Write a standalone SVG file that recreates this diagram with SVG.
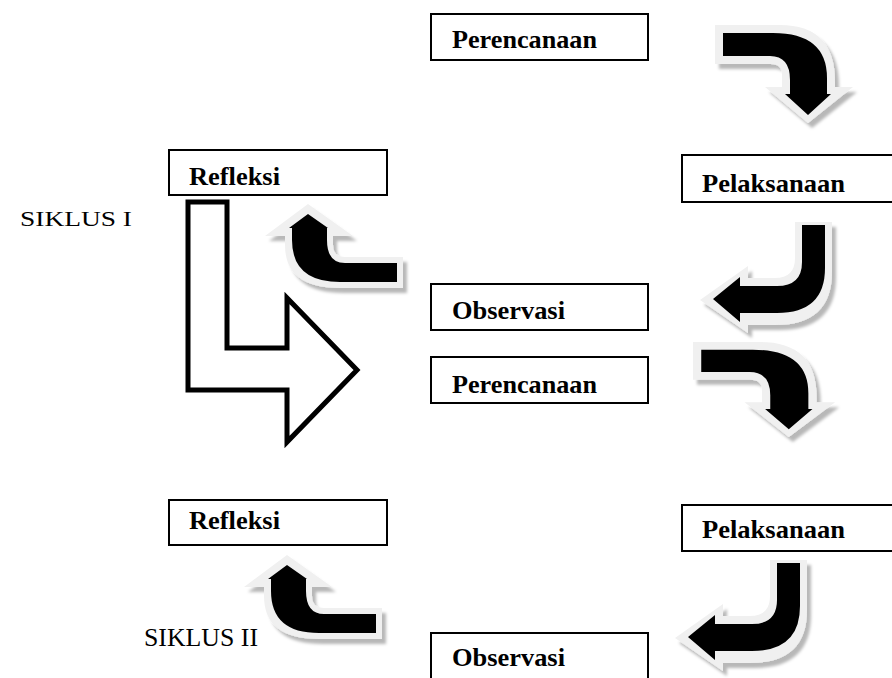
<svg xmlns="http://www.w3.org/2000/svg" width="892" height="678" viewBox="0 0 892 678">
<style>
.box{fill:#fff;stroke:#000;stroke-width:2}
.lbl{font-family:"Liberation Serif","Times New Roman",serif;font-weight:bold;font-size:25px;fill:#000}
.sik{font-family:"Liberation Serif","Times New Roman",serif;fill:#000}
.halo{fill:#f0f0f0}
.core{fill:#000}
</style>
<defs>
<filter id="sh" x="-20%" y="-20%" width="150%" height="150%">
<feGaussianBlur in="SourceAlpha" stdDeviation="1.5"/>
<feOffset dx="4" dy="5" result="b"/>
<feFlood flood-color="#000" flood-opacity="0.28"/>
<feComposite in2="b" operator="in"/>
<feMerge><feMergeNode/><feMergeNode in="SourceGraphic"/></feMerge>
</filter>
<g id="arrA">
<path class="halo" filter="url(#sh)" d="M0,0 H65 Q120,0 120,57 V62 H138 L93,98 L50,62 H67 V50 Q67,39 56,39 H0 Z"/>
<path class="core" d="M8,8 H58 Q112,8 112,53 V69 H116 L93,90 L70,69 H75 V55 Q75,31 55,31 H8 Z"/>
</g>
<g id="arrB">
<path class="halo" filter="url(#sh)" d="M795,222 H832 V272 Q832,325 775,325 H748 V333 L700,300 L748,266 V278 H775 Q795,278 795,258 Z"/>
<path class="core" d="M802,225 H825 V268 Q825,313 777,313 H740 V322 L713,299 L740,277 V286 H777 Q802,286 802,262 Z"/>
</g>
<g id="arrC">
<path class="halo" filter="url(#sh)" d="M403,257 V288 H340 Q285,288 285,245 V236 H265 L308,204 L353,236 H333 V245 Q333,257 345,257 Z"/>
<path class="core" d="M397,263 V282 H340 Q292,282 292,240 V228 H289 L308,214 L328,228 H327 V240 Q327,263 345,263 Z"/>
</g>
</defs>

<g id="connectors">
<use href="#arrA" transform="translate(715,25)"/>
<use href="#arrB"/>
<use href="#arrC"/>
<use href="#arrA" transform="translate(693,342) scale(1.03,0.97)"/>
<use href="#arrB" transform="translate(-25,338)"/>
<use href="#arrC" transform="translate(-21,351)"/>
<path id="siklus-arrow" d="M188,202 H227 V348 H287 V298 L357,370 L287,442 V390 H188 Z" fill="#fff" stroke="#000" stroke-width="5" stroke-linejoin="miter"/>
</g>

<g id="perencanaan1">
<rect class="box" x="431" y="14" width="217" height="46"/>
<text class="lbl" x="452" y="48" textLength="145" lengthAdjust="spacingAndGlyphs">Perencanaan</text>
</g>
<g id="pelaksanaan1">
<rect class="box" x="682" y="155" width="220" height="47"/>
<text class="lbl" x="702" y="192" textLength="143" lengthAdjust="spacingAndGlyphs">Pelaksanaan</text>
</g>
<g id="observasi1">
<rect class="box" x="431" y="284" width="217" height="46"/>
<text class="lbl" x="452" y="319" textLength="113" lengthAdjust="spacingAndGlyphs">Observasi</text>
</g>
<g id="refleksi1">
<rect class="box" x="169" y="150" width="218" height="45"/>
<text class="lbl" x="189" y="185" textLength="91" lengthAdjust="spacingAndGlyphs">Refleksi</text>
</g>
<g id="perencanaan2">
<rect class="box" x="431" y="357" width="217" height="46"/>
<text class="lbl" x="452" y="393" textLength="145" lengthAdjust="spacingAndGlyphs">Perencanaan</text>
</g>
<g id="pelaksanaan2">
<rect class="box" x="682" y="505" width="220" height="46"/>
<text class="lbl" x="702" y="538" textLength="143" lengthAdjust="spacingAndGlyphs">Pelaksanaan</text>
</g>
<g id="observasi2">
<rect class="box" x="431" y="633" width="217" height="50"/>
<text class="lbl" x="452" y="666" textLength="113" lengthAdjust="spacingAndGlyphs">Observasi</text>
</g>
<g id="refleksi2">
<rect class="box" x="169" y="500" width="218" height="45"/>
<text class="lbl" x="189" y="529" textLength="91" lengthAdjust="spacingAndGlyphs">Refleksi</text>
</g>
<g id="siklus1">
<text class="sik" x="20" y="226" font-size="22" textLength="112" lengthAdjust="spacingAndGlyphs">SIKLUS I</text>
</g>
<g id="siklus2">
<text class="sik" x="144" y="646" font-size="26" textLength="114" lengthAdjust="spacingAndGlyphs">SIKLUS II</text>
</g>
</svg>
